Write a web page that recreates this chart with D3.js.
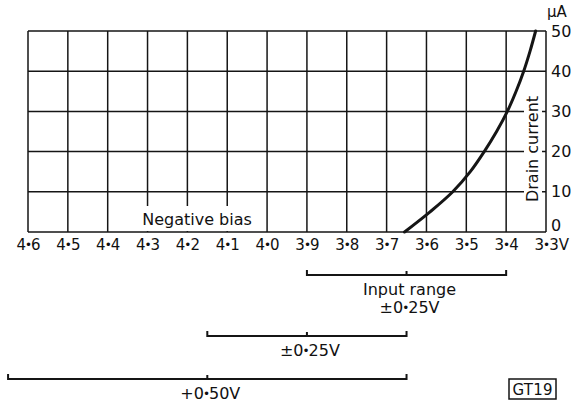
<!DOCTYPE html>
<html>
<head>
<meta charset="utf-8">
<script src="https://cdn.jsdelivr.net/npm/d3@7"></script>
<style>
  html, body { margin: 0; padding: 0; background: #fff; }
  svg { display: block; }
  text { font-family: "DejaVu Sans", sans-serif; fill: #111; }
</style>
</head>
<body>
<svg id="chart" width="580" height="403"></svg>
<script>
// Negative bias ticks (volts) and drain-current ticks (µA)
const biasTicks = [4.6, 4.5, 4.4, 4.3, 4.2, 4.1, 4.0, 3.9, 3.8, 3.7, 3.6, 3.5, 3.4, 3.3];
const currentTicks = [0, 10, 20, 30, 40, 50];

// Transfer characteristic: negative bias (V) vs drain current (µA)
const curveBias    = [3.655, 3.591, 3.534, 3.490, 3.455, 3.424, 3.397, 3.375, 3.356, 3.340, 3.326];
const curveCurrent = [0, 5, 10, 15, 20, 25, 30, 35, 40, 45, 50];

// Input ranges shown beneath the axis
const rangeFrom   = [3.90, 4.15, 4.65];
const rangeTo     = [3.40, 3.65, 3.65];
const rangeLabels = [["Input range", "±0•25V"], ["±0•25V"], ["+0•50V"]];

const svg = d3.select("#chart");
const ink = "#151515";

const x = d3.scaleLinear().domain([4.6, 3.3]).range([28, 546]);
const y = d3.scaleLinear().domain([0, 50]).range([232, 31]);

const fmt = v => v.toFixed(1).replace(".", "•");

// writes a string into a text node, drawing each "•" as a compact raised dot
function dotted(textSel, str) {
  textSel.text(null);
  const parts = str.split("•");
  parts.forEach((p, i) => {
    if (i > 0) {
      textSel.append("tspan").attr("font-size", 12).attr("dx", -1).attr("dy", -1.5).text("•");
      textSel.append("tspan").attr("dx", -1).attr("dy", 1.5).text(p);
    } else {
      textSel.append("tspan").text(p);
    }
  });
}

// grid
const grid = svg.append("g");
grid.selectAll("line.v").data(biasTicks).join("line")
  .attr("x1", d => x(d)).attr("x2", d => x(d))
  .attr("y1", y(50)).attr("y2", y(0))
  .attr("stroke", ink).attr("stroke-width", 1.5);
grid.selectAll("line.h").data(currentTicks).join("line")
  .attr("x1", x(4.6)).attr("x2", x(3.3))
  .attr("y1", d => y(d)).attr("y2", d => y(d))
  .attr("stroke", ink).attr("stroke-width", 1.5);

// white patches behind in-plot labels
svg.append("rect").attr("x", 133).attr("y", 206).attr("width", 127).attr("height", 25).attr("fill", "#fff");
svg.append("rect").attr("x", 524).attr("y", 88).attr("width", 18).attr("height", 122).attr("fill", "#fff");

svg.append("text").attr("x", 197).attr("y", 225)
  .attr("text-anchor", "middle").attr("font-size", 16).text("Negative bias");

svg.append("text")
  .attr("transform", `translate(538,149) rotate(-90)`)
  .attr("text-anchor", "middle").attr("font-size", 16).text("Drain current");

// x-axis labels
const xAxis = svg.append("g").attr("transform", `translate(0,${y(0)})`)
  .call(d3.axisBottom(x).tickValues(biasTicks).tickSize(0).tickPadding(0));
xAxis.select(".domain").remove();
xAxis.selectAll(".tick text")
  .attr("y", 18).attr("dy", 0)
  .attr("font-size", 15).attr("font-family", "DejaVu Sans").attr("fill", ink)
  .each(function(d) { dotted(d3.select(this), fmt(d)); });
xAxis.selectAll(".tick").filter(d => d === 3.3).select("text")
  .attr("text-anchor", "start").attr("dx", -12)
  .append("tspan").text("V");

// y-axis labels on the right
const yAxis = svg.append("g").attr("transform", `translate(${x(3.3)},0)`)
  .call(d3.axisRight(y).tickValues(currentTicks).tickSize(0).tickPadding(5));
yAxis.select(".domain").remove();
yAxis.selectAll("text")
  .attr("font-size", 16).attr("font-family", "DejaVu Sans").attr("fill", ink)
  .attr("dy", d => d === 0 ? "-0.1em" : "0.32em");

svg.append("text").attr("x", 547).attr("y", 17).attr("font-size", 15).text("µA");

// characteristic curve
const pts = curveBias.map((b, i) => [b, curveCurrent[i]]);
svg.append("path")
  .datum(pts)
  .attr("fill", "none").attr("stroke", ink).attr("stroke-width", 3)
  .attr("stroke-linecap", "round")
  .attr("d", d3.line().x(d => x(d[0])).y(d => y(d[1])).curve(d3.curveCatmullRom));

// input range bars
const barY = [275, 336, 379];
rangeFrom.forEach((from, i) => {
  const g = svg.append("g");
  const x0 = x(from), x1 = x(rangeTo[i]), yy = barY[i];
  const mid = (x0 + x1) / 2;
  g.append("path")
    .attr("d", `M${x0},${yy - 5}V${yy}H${x1}V${yy - 5}M${mid},${yy}V${yy - 4}`)
    .attr("fill", "none").attr("stroke", ink).attr("stroke-width", 2);
  rangeLabels[i].forEach((t, j) => {
    const lbl = g.append("text").attr("x", mid + 3).attr("y", yy + 20 + j * 18)
      .attr("text-anchor", "middle").attr("font-size", 16);
    dotted(lbl, t);
  });
});

// figure tag
svg.append("rect").attr("x", 509).attr("y", 379).attr("width", 47).attr("height", 20)
  .attr("fill", "none").attr("stroke", ink).attr("stroke-width", 1.5);
svg.append("text").attr("x", 532.5).attr("y", 395).attr("text-anchor", "middle")
  .attr("font-size", 15).attr("textLength", 40).text("GT19");
</script>
</body>
</html>
